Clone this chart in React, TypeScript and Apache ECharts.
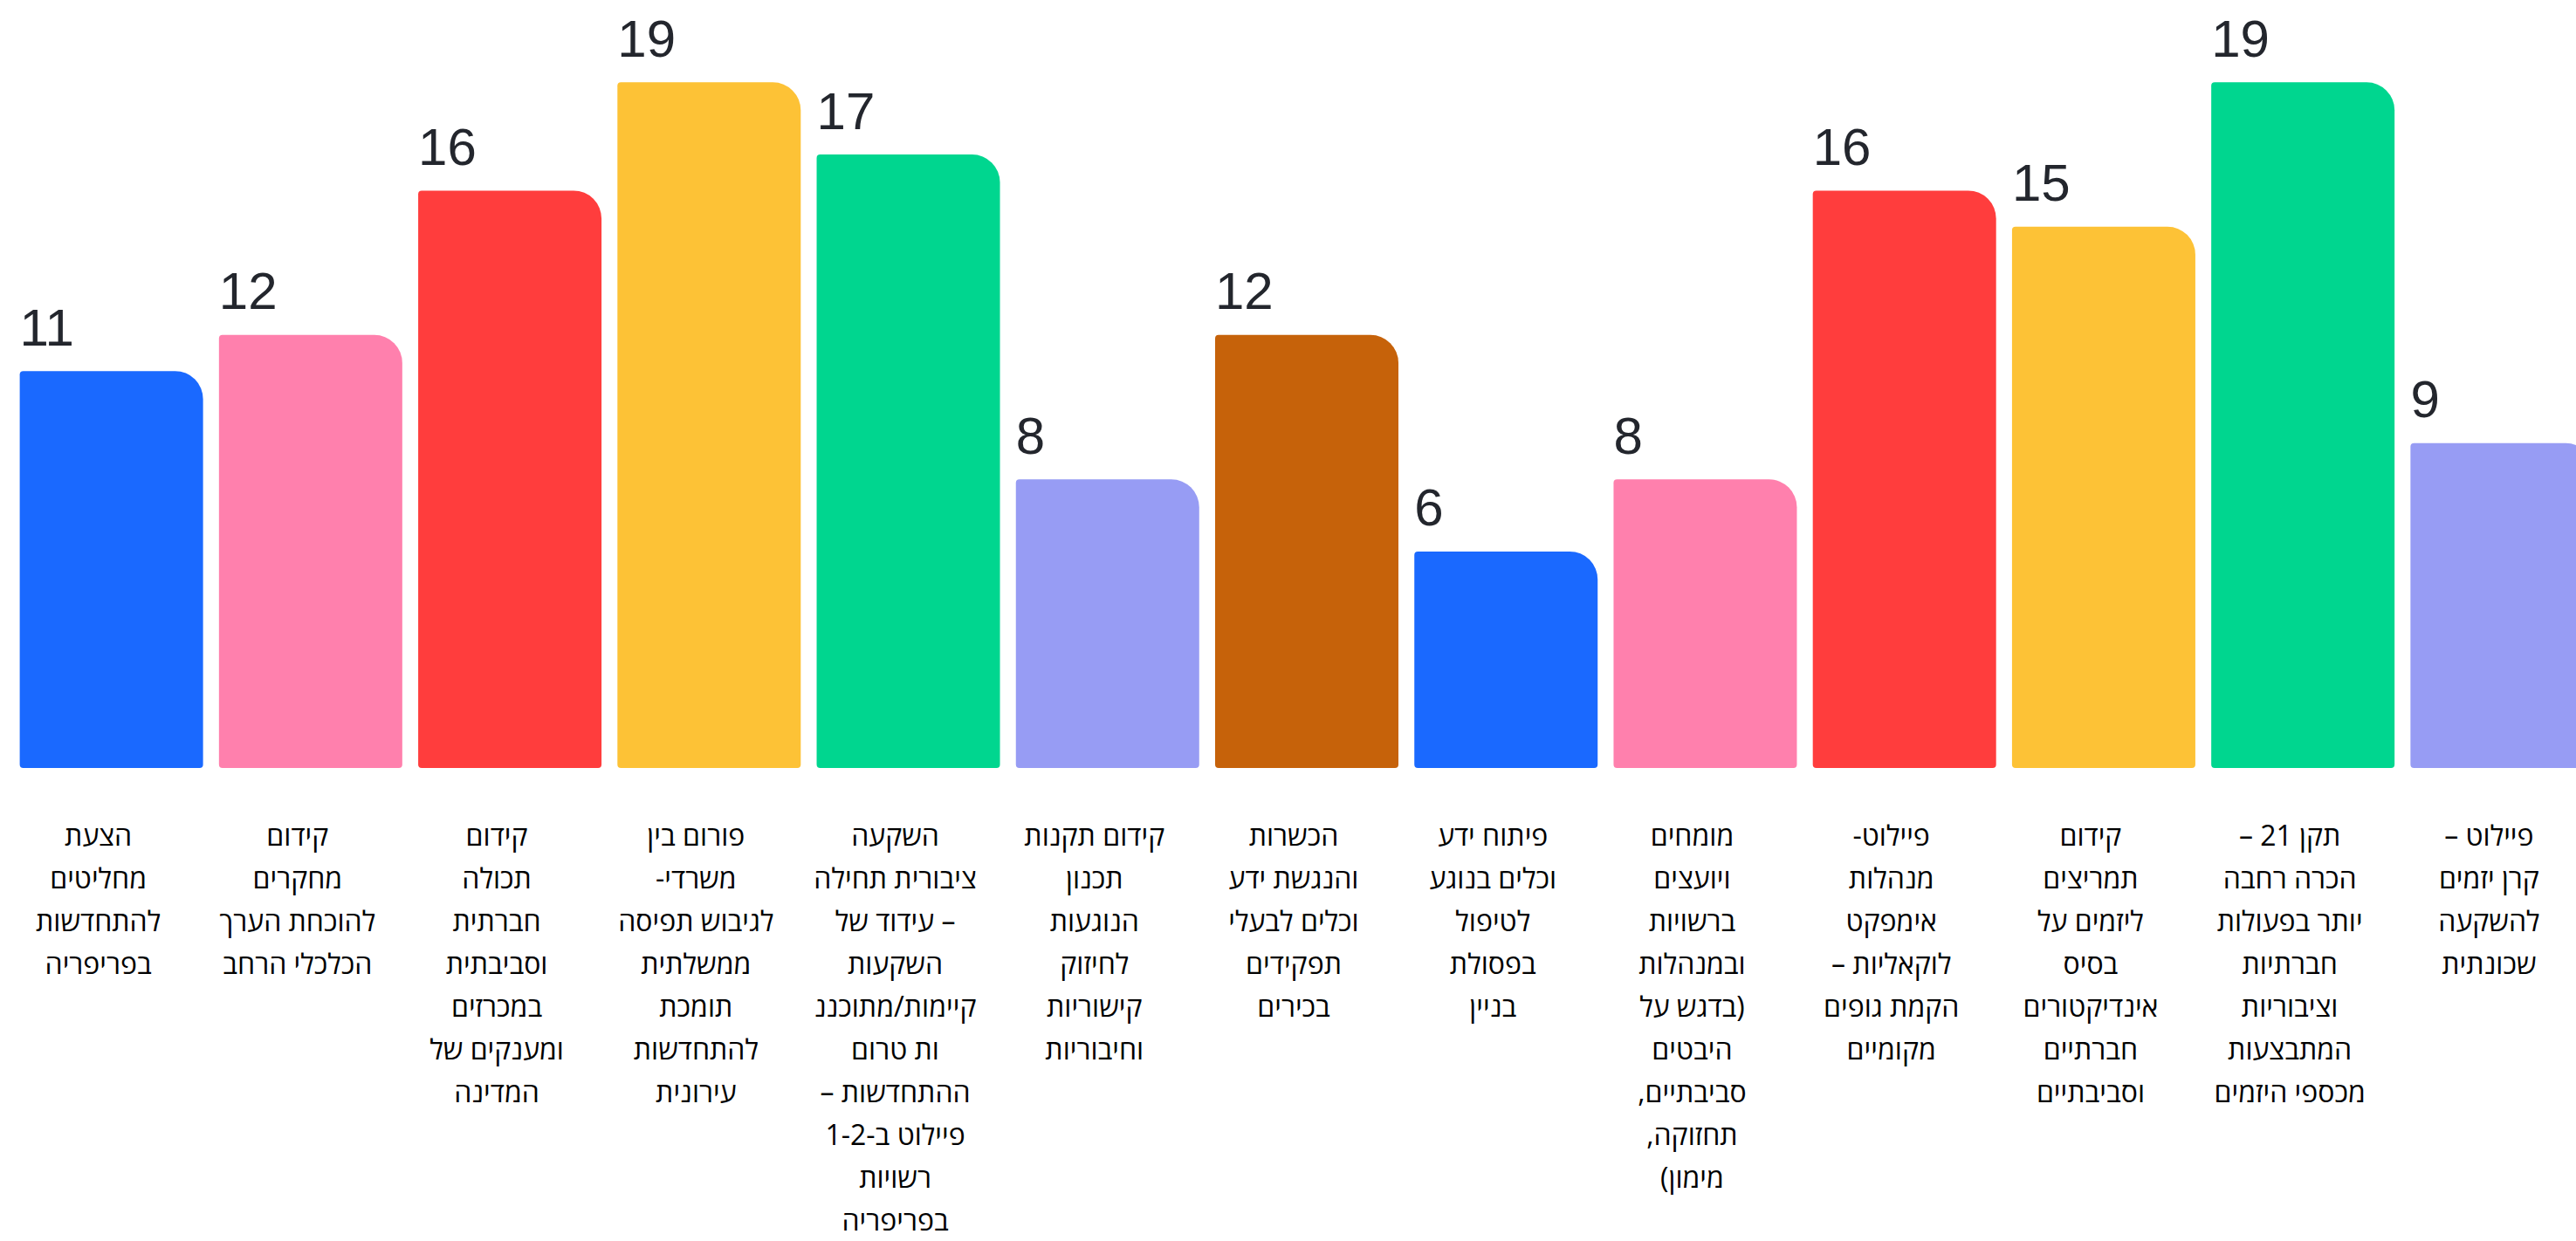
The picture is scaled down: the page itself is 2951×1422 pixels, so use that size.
import React, { useEffect, useRef } from "react";
import * as echarts from "echarts";

const categories: string[][] = [
  ["הצעת", "מחליטים", "להתחדשות", "בפריפריה"],
  ["קידום", "מחקרים", "להוכחת הערך", "הכלכלי הרחב"],
  ["קידום", "תכולה", "חברתית", "וסביבתית", "במכרזים", "ומענקים של", "המדינה"],
  ["פורום בין", "משרדי-", "לגיבוש תפיסה", "ממשלתית", "תומכת", "להתחדשות", "עירונית"],
  ["השקעה", "ציבורית תחילה", "– עידוד של", "השקעות", "קיימות/מתוכננ", "ות טרום", "ההתחדשות –", "פיילוט ב-1-2", "רשויות", "בפריפריה"],
  ["קידום תקנות", "תכנון", "הנוגעות", "לחיזוק", "קישוריות", "וחיבוריות"],
  ["הכשרות", "והנגשת ידע", "וכלים לבעלי", "תפקידים", "בכירים"],
  ["פיתוח ידע", "וכלים בנוגע", "לטיפול", "בפסולת", "בניין"],
  ["מומחים", "ויועצים", "ברשויות", "ובמנהלות", "(בדגש על", "היבטים", "סביבתיים,", "תחזוקה,", "מימון)"],
  ["פיילוט-", "מנהלות", "אימפקט", "לוקאליות –", "הקמת גופים", "מקומיים"],
  ["קידום", "תמריצים", "ליזמים על", "בסיס", "אינדיקטורים", "חברתיים", "וסביבתיים"],
  ["תקן 21 –", "הכרה רחבה", "יותר בפעולות", "חברתיות", "וציבוריות", "המתבצעות", "מכספי היזמים"],
  ["פיילוט –", "קרן יזמים", "להשקעה", "שכונתית"],
];

const values: number[] = [11, 12, 16, 19, 17, 8, 12, 6, 8, 16, 15, 19, 9];

const palette: string[] = ["#1A69FF", "#FF80AD", "#FF3D3D", "#FDC236", "#00D68F", "#979CF4", "#C6620A"];

const RLM = "\u200F";
const categoryLabels = categories.map((lines) => lines.map((l) => RLM + l + RLM).join("\n"));

export default function App() {
  const ref = useRef<HTMLDivElement>(null);
  useEffect(() => {
    if (!ref.current) return;
    const chart = echarts.init(ref.current, undefined, { renderer: "svg" });
    chart.setOption({
      animation: false,
      backgroundColor: "#ffffff",
      color: palette,
      grid: { left: 13.5, top: 53, width: 2967, height: 827, containLabel: false },
      xAxis: {
        type: "category",
        data: categoryLabels,
        axisLine: { show: false },
        axisTick: { show: false },
        axisLabel: {
          interval: 0,
          margin: 52,
          fontSize: 32,
          lineHeight: 49,
          padding: [0, 30, 0, 0],
          color: "#000000",
          fontFamily: "'Open Sans', 'Noto Sans Hebrew', 'Liberation Sans', sans-serif",
          align: "center",
          verticalAlign: "top",
        },
      },
      yAxis: {
        type: "value",
        min: 0,
        max: 20,
        show: false,
        splitLine: { show: false },
      },
      series: [
        {
          type: "bar",
          data: values,
          colorBy: "data",
          barWidth: 210,
          itemStyle: { borderRadius: [4, 32, 4, 4] },
          label: {
            show: true,
            position: [0, -50],
            align: "left",
            verticalAlign: "middle",
            fontSize: 60,
            color: "#23262d",
            fontFamily: "'Liberation Sans', Arial, sans-serif",
          },
        },
      ],
    });
    return () => chart.dispose();
  }, []);
  return (
    <div style={{ position: "absolute", left: 0, top: 0, width: 2951, height: 1422, overflow: "hidden", background: "#fff" }}>
      <div ref={ref} style={{ width: 3000, height: 1422 }} />
    </div>
  );
}
